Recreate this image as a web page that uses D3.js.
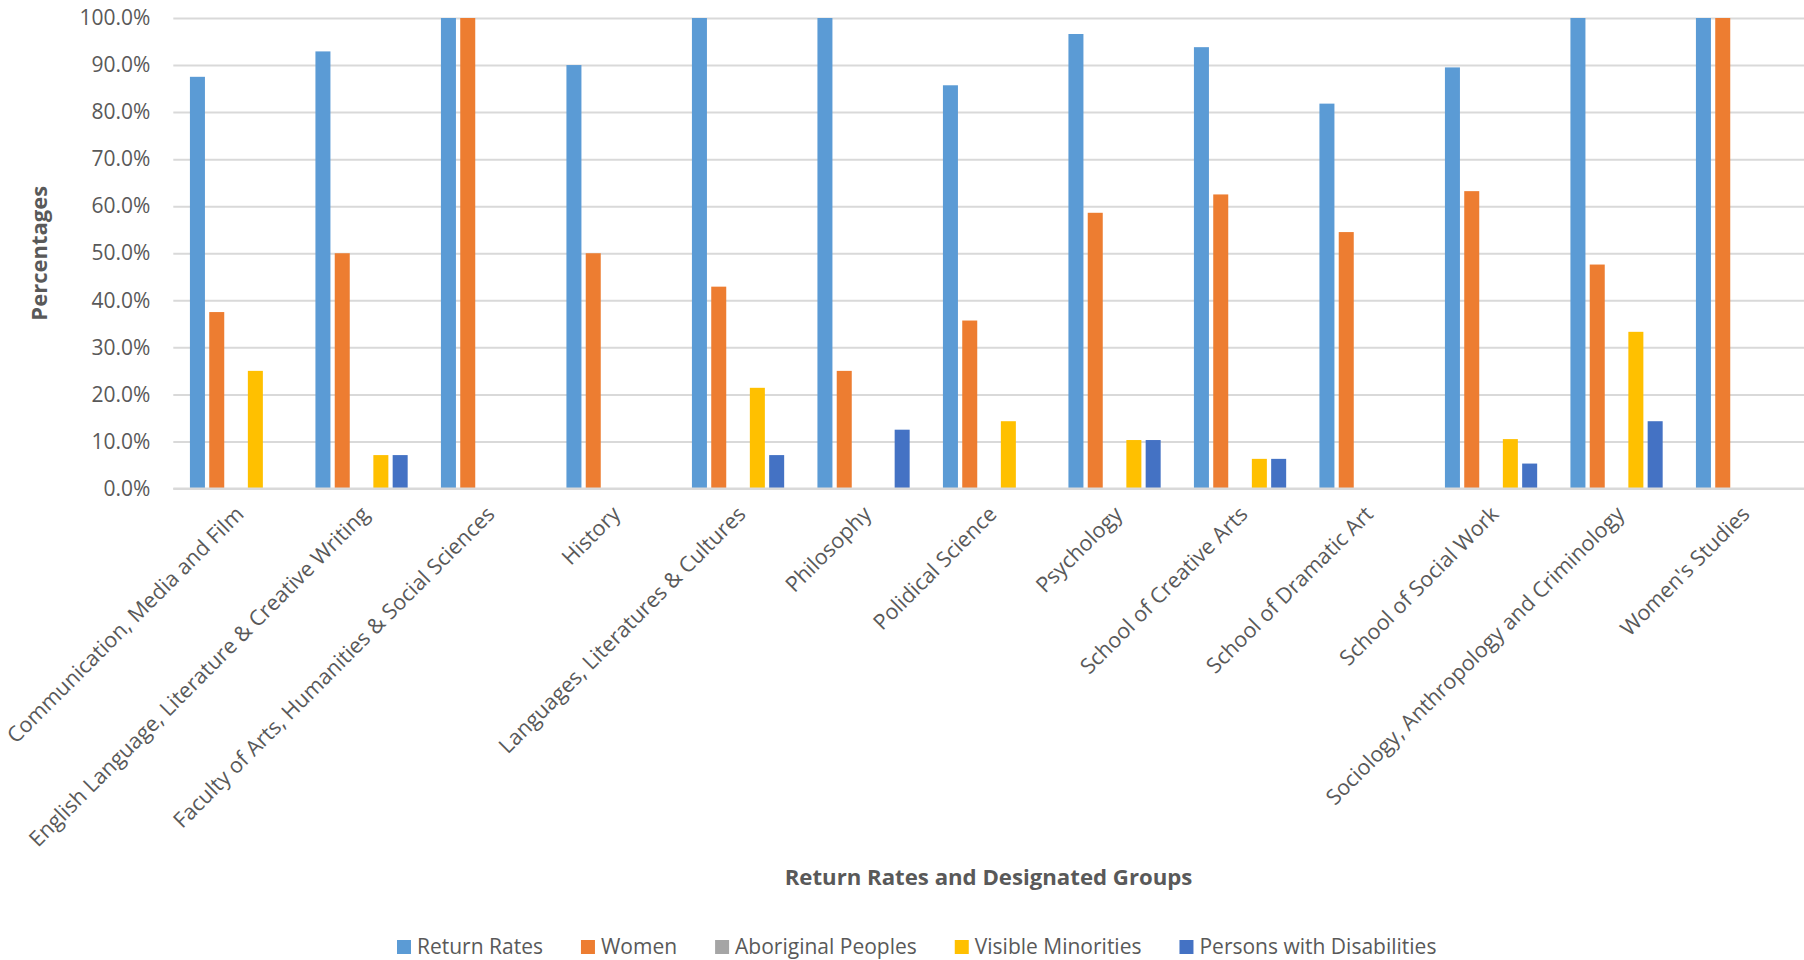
<!DOCTYPE html>
<html>
<head>
<meta charset="utf-8">
<script src="https://cdn.jsdelivr.net/npm/d3@7"></script>
<style>
  html, body { margin: 0; padding: 0; background: #fff; }
  svg { display: block; }
  text { font-family: "Open Sans", "Noto Sans", sans-serif; fill: #595959; }
</style>
</head>
<body>
<svg id="chart" width="1804" height="960"></svg>
<script>
const categories = [
  "Communication, Media and Film",
  "English Language, Literature & Creative Writing",
  "Faculty of Arts, Humanities & Social Sciences",
  "History",
  "Languages, Literatures & Cultures",
  "Philosophy",
  "Polidical Science",
  "Psychology",
  "School of Creative Arts",
  "School of Dramatic Art",
  "School of Social Work",
  "Sociology, Anthropology and Criminology",
  "Women's Studies"
];
const seriesNames = ["Return Rates", "Women", "Aboriginal Peoples", "Visible Minorities", "Persons with Disabilities"];
const seriesColors = ["#5B9BD5", "#ED7D31", "#A5A5A5", "#FFC000", "#4472C4"];
const returnRates       = [87.5, 92.9, 100, 90.0, 100, 100, 85.7, 96.6, 93.8, 81.8, 89.5, 100, 100];
const women             = [37.5, 50.0, 100, 50.0, 42.9, 25.0, 35.7, 58.6, 62.5, 54.5, 63.2, 47.6, 100];
const aboriginalPeoples = [0, 0, 0, 0, 0, 0, 0, 0, 0, 0, 0, 0, 0];
const visibleMinorities = [25.0, 7.1, 0, 0, 21.4, 0, 14.3, 10.3, 6.3, 0, 10.5, 33.3, 0];
const disabilities      = [0, 7.1, 0, 0, 7.1, 12.5, 0, 10.3, 6.3, 0, 5.3, 14.3, 0];
const yTicks = [0, 10, 20, 30, 40, 50, 60, 70, 80, 90, 100];
const yTitle = "Percentages";
const xTitle = "Return Rates and Designated Groups";

const seriesValues = [returnRates, women, aboriginalPeoples, visibleMinorities, disabilities];

const svg = d3.select("#chart");
const plot = { left: 173.3, right: 1804.8, top: 18, bottom: 488.5 };

const x0 = d3.scaleBand()
  .domain(categories)
  .range([plot.left, plot.right])
  .paddingInner(1.5 / 6.5)
  .paddingOuter(0.75 / 6.5);
const x1 = d3.scaleBand()
  .domain(seriesNames)
  .range([0, x0.bandwidth()])
  .padding(0);
const y = d3.scaleLinear().domain([0, 100]).range([plot.bottom, plot.top]);
const color = d3.scaleOrdinal().domain(seriesNames).range(seriesColors);

// gridlines + tick labels
const yAxis = d3.axisLeft(y)
  .tickValues(yTicks)
  .tickSize(-(plot.right - plot.left))
  .tickFormat(d => d3.format(".1f")(d) + "%")
  .tickPadding(23);
const gy = svg.append("g")
  .attr("transform", `translate(${plot.left},0)`)
  .call(yAxis);
gy.select(".domain").remove();
gy.selectAll(".tick line").attr("stroke", "#D9D9D9").attr("stroke-width", 2);
gy.selectAll(".tick text")
  .attr("font-size", 21)
  .attr("fill", "#595959")
  .attr("font-family", "'Open Sans', sans-serif");

// bars
const inset = 2.15;
const groups = svg.append("g").selectAll("g")
  .data(categories)
  .join("g")
  .attr("transform", d => `translate(${x0(d)},0)`);
groups.selectAll("rect")
  .data((c, i) => seriesNames.map((s, k) => ({ s, v: seriesValues[k][i] })))
  .join("rect")
  .attr("x", d => x1(d.s) + inset)
  .attr("width", x1.bandwidth() - 2 * inset)
  .attr("y", d => y(d.v))
  .attr("height", d => y(0) - y(d.v))
  .attr("fill", d => color(d.s));

// x axis labels
const xAxis = d3.axisBottom(x0).tickSize(0).tickPadding(0);
const gx = svg.append("g")
  .attr("transform", `translate(0,${plot.bottom})`)
  .call(xAxis);
gx.select(".domain").remove();
gx.selectAll(".tick text")
  .attr("font-size", 21.5)
  .attr("fill", "#595959")
  .attr("font-family", "'Open Sans', sans-serif")
  .attr("text-anchor", "end")
  .attr("dy", null)
  .attr("y", null)
  .attr("transform", "translate(9,27) rotate(-45)");

// baseline axis line
svg.append("line")
  .attr("x1", plot.left).attr("x2", plot.right)
  .attr("y1", y(0)).attr("y2", y(0))
  .attr("stroke", "#D9D9D9").attr("stroke-width", 2);

// axis titles
svg.append("text")
  .attr("transform", `translate(47,${(plot.top + plot.bottom) / 2}) rotate(-90)`)
  .attr("text-anchor", "middle")
  .attr("font-size", 22)
  .attr("font-weight", "bold")
  .text(yTitle);
svg.append("text")
  .attr("x", 988.5).attr("y", 885)
  .attr("text-anchor", "middle")
  .attr("font-size", 22.2)
  .attr("font-weight", "bold")
  .text(xTitle);

// legend
const legend = svg.append("g").attr("transform", "translate(397,947)");
let lx = 0;
seriesNames.forEach((s, k) => {
  const g = legend.append("g").attr("transform", `translate(${lx},0)`);
  g.append("rect").attr("x", 0).attr("y", -7).attr("width", 14).attr("height", 14).attr("fill", seriesColors[k]);
  const t = g.append("text").attr("x", 20).attr("y", 0).attr("dy", "0.35em")
    .attr("font-size", 21).text(s);
  lx += 20 + t.node().getComputedTextLength() + 38;
});
</script>
</body>
</html>
